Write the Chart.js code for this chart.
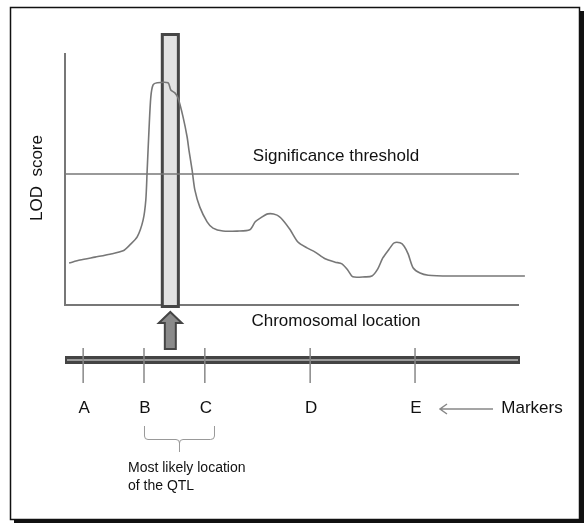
<!DOCTYPE html>
<html>
<head>
<meta charset="utf-8">
<script src="https://cdn.jsdelivr.net/npm/chart.js@4"></script>
<style>
  html, body { margin: 0; padding: 0; background: #fff; }
  canvas { display: block; }
</style>
</head>
<body>
<canvas id="qtlChart" width="585" height="524"></canvas>
<script>
// chromosomal position (cM) and LOD score
const positions = [0.9, 3.3, 6.6, 9.9, 12.8, 14.3, 15.9, 17.2, 17.8, 18.1, 18.5, 18.9, 19.4, 20.3, 22.7, 23.3, 24.2, 24.9, 26.0, 26.9, 27.3, 28.0, 28.6, 29.7, 31.3, 32.6, 34.8, 37.9, 40.7, 41.9, 43.0, 44.7, 46.7, 48.0, 49.6, 51.3, 53.3, 55.1, 57.3, 59.5, 61.0, 62.3, 63.4, 66.1, 67.6, 68.9, 70.0, 71.6, 72.5, 73.8, 74.7, 75.6, 76.7, 78.2, 80.0, 84.8, 92.1, 101.3];
const lodScores = [1.00, 1.07, 1.14, 1.21, 1.29, 1.43, 1.62, 2.02, 2.50, 3.21, 4.17, 4.95, 5.24, 5.29, 5.29, 5.12, 5.05, 4.93, 4.48, 4.00, 3.69, 3.21, 2.74, 2.33, 1.98, 1.83, 1.76, 1.76, 1.79, 1.98, 2.07, 2.17, 2.14, 2.02, 1.79, 1.50, 1.36, 1.26, 1.10, 1.02, 0.98, 0.83, 0.67, 0.67, 0.69, 0.86, 1.12, 1.36, 1.48, 1.48, 1.40, 1.21, 0.88, 0.76, 0.71, 0.69, 0.69, 0.69];
const threshold = 3.12;
const markerNames = ['A', 'B', 'C', 'D', 'E'];
const markerPos = [4.0, 17.4, 30.8, 54.0, 77.1];
const qtlInterval = [21.1, 25.3];
const chromRange = [0, 100];

const FONT = '"Liberation Sans", Arial, sans-serif';

// ── Drawing of the frame, axes, chromosome and notes ─────────────
const diagram = {
    id: 'diagram',
    beforeDraw(chart) {
        const ctx = chart.ctx;
        ctx.save();
        ctx.fillStyle = '#111';
        ctx.fillRect(14, 11, 570, 512);
        ctx.fillStyle = '#fff';
        ctx.fillRect(10, 7, 569, 512);
        ctx.strokeStyle = '#111';
        ctx.lineWidth = 1.5;
        ctx.strokeRect(10.5, 7.5, 569, 512);
        ctx.restore();
    },
    beforeDatasetsDraw(chart) {
        const { ctx, chartArea: a, scales: { x, y } } = chart;
        ctx.save();
        // axes
        ctx.strokeStyle = '#777';
        ctx.lineWidth = 2;
        ctx.beginPath();
        ctx.moveTo(x.getPixelForValue(chromRange[0]), a.top);
        ctx.lineTo(x.getPixelForValue(chromRange[0]), y.getPixelForValue(0));
        ctx.lineTo(x.getPixelForValue(chromRange[1]), y.getPixelForValue(0));
        ctx.stroke();
        // QTL interval bar
        const x0 = x.getPixelForValue(qtlInterval[0]);
        const x1 = x.getPixelForValue(qtlInterval[1]);
        ctx.fillStyle = '#e2e2e2';
        ctx.strokeStyle = '#464646';
        ctx.lineWidth = 3;
        ctx.fillRect(x0 + 1.5, 34.5, x1 - x0 - 3, a.bottom - 33);
        ctx.strokeRect(x0 + 1.5, 34.5, x1 - x0 - 3, a.bottom - 33);
        ctx.restore();
    },
    afterDatasetsDraw(chart) {
        const { ctx, chartArea: a, scales: { x, y } } = chart;
        ctx.save();
        ctx.fillStyle = '#111';
        ctx.textAlign = 'center';
        ctx.textBaseline = 'middle';
        ctx.font = '17px ' + FONT;
        ctx.fillText('Significance threshold', 336, y.getPixelForValue(threshold) - 18);
        ctx.fillText('Chromosomal location', 336, 321);

        ctx.save();
        ctx.translate(37, 178);
        ctx.rotate(-Math.PI / 2);
        ctx.fillText('LOD  score', 0, 0);
        ctx.restore();

        // arrow pointing at the QTL
        const cx = (x.getPixelForValue(qtlInterval[0]) + x.getPixelForValue(qtlInterval[1])) / 2;
        ctx.beginPath();
        ctx.moveTo(cx, 312);
        ctx.lineTo(cx + 11.5, 323);
        ctx.lineTo(cx + 5.5, 323);
        ctx.lineTo(cx + 5.5, 349);
        ctx.lineTo(cx - 5.5, 349);
        ctx.lineTo(cx - 5.5, 323);
        ctx.lineTo(cx - 11.5, 323);
        ctx.closePath();
        ctx.fillStyle = '#8a8a8a';
        ctx.fill();
        ctx.strokeStyle = '#454545';
        ctx.lineWidth = 2;
        ctx.stroke();

        // chromosome
        const c0 = x.getPixelForValue(chromRange[0]);
        const c1 = x.getPixelForValue(chromRange[1]);
        ctx.fillStyle = '#444';
        ctx.fillRect(c0, 356, c1 - c0 + 1, 8);
        ctx.fillStyle = '#9a9a9a';
        ctx.fillRect(c0 + 2, 359, c1 - c0 - 3, 2);

        // markers
        ctx.strokeStyle = '#888';
        ctx.lineWidth = 1.5;
        ctx.fillStyle = '#111';
        markerPos.forEach((p, i) => {
            const px = x.getPixelForValue(p);
            ctx.beginPath();
            ctx.moveTo(px, 348);
            ctx.lineTo(px, 383);
            ctx.stroke();
            ctx.fillText(markerNames[i], px + 1, 408);
        });
        ctx.fillText('Markers', 532, 408);
        ctx.beginPath();
        ctx.moveTo(493, 409);
        ctx.lineTo(440, 409);
        ctx.moveTo(447, 404);
        ctx.lineTo(440, 409);
        ctx.lineTo(447, 414);
        ctx.stroke();

        // bracket under B–C
        const b0 = x.getPixelForValue(markerPos[1]);
        const b1 = b0 + 70;
        const bm = (b0 + b1) / 2;
        ctx.strokeStyle = '#999';
        ctx.lineWidth = 1;
        ctx.beginPath();
        ctx.moveTo(b0 + 0.5, 426);
        ctx.lineTo(b0 + 0.5, 436);
        ctx.quadraticCurveTo(b0 + 0.5, 439.5, b0 + 4, 439.5);
        ctx.lineTo(bm - 3, 439.5);
        ctx.quadraticCurveTo(bm + 0.5, 439.5, bm + 0.5, 443);
        ctx.lineTo(bm + 0.5, 452);
        ctx.moveTo(bm + 0.5, 443);
        ctx.quadraticCurveTo(bm + 0.5, 439.5, bm + 4, 439.5);
        ctx.lineTo(b1 - 3.5, 439.5);
        ctx.quadraticCurveTo(b1 + 0.5, 439.5, b1 + 0.5, 436);
        ctx.lineTo(b1 + 0.5, 426);
        ctx.stroke();

        ctx.textAlign = 'left';
        ctx.font = '14px ' + FONT;
        ctx.fillText('Most likely location', 128, 468);
        ctx.fillText('of the QTL', 128, 486);
        ctx.restore();
    }
};

new Chart(document.getElementById('qtlChart'), {
    type: 'line',
    data: {
        datasets: [{
            label: 'LOD score',
            data: positions.map((p, i) => ({ x: p, y: lodScores[i] })),
            borderColor: '#777',
            borderWidth: 1.6,
            pointRadius: 0,
            tension: 0.25,
            clip: false,
        }, {
            label: 'Significance threshold',
            data: chromRange.map(p => ({ x: p, y: threshold })),
            borderColor: '#777',
            borderWidth: 1.6,
            pointRadius: 0,
        }]
    },
    options: {
        responsive: false,
        animation: false,
        layout: { padding: { left: 65, top: 53, right: 66, bottom: 219 } },
        plugins: { legend: { display: false }, tooltip: { enabled: false } },
        scales: {
            x: { type: 'linear', min: 0, max: 100, display: false },
            y: { min: 0, max: 6, display: false }
        }
    },
    plugins: [diagram]
});
</script>
</body>
</html>
